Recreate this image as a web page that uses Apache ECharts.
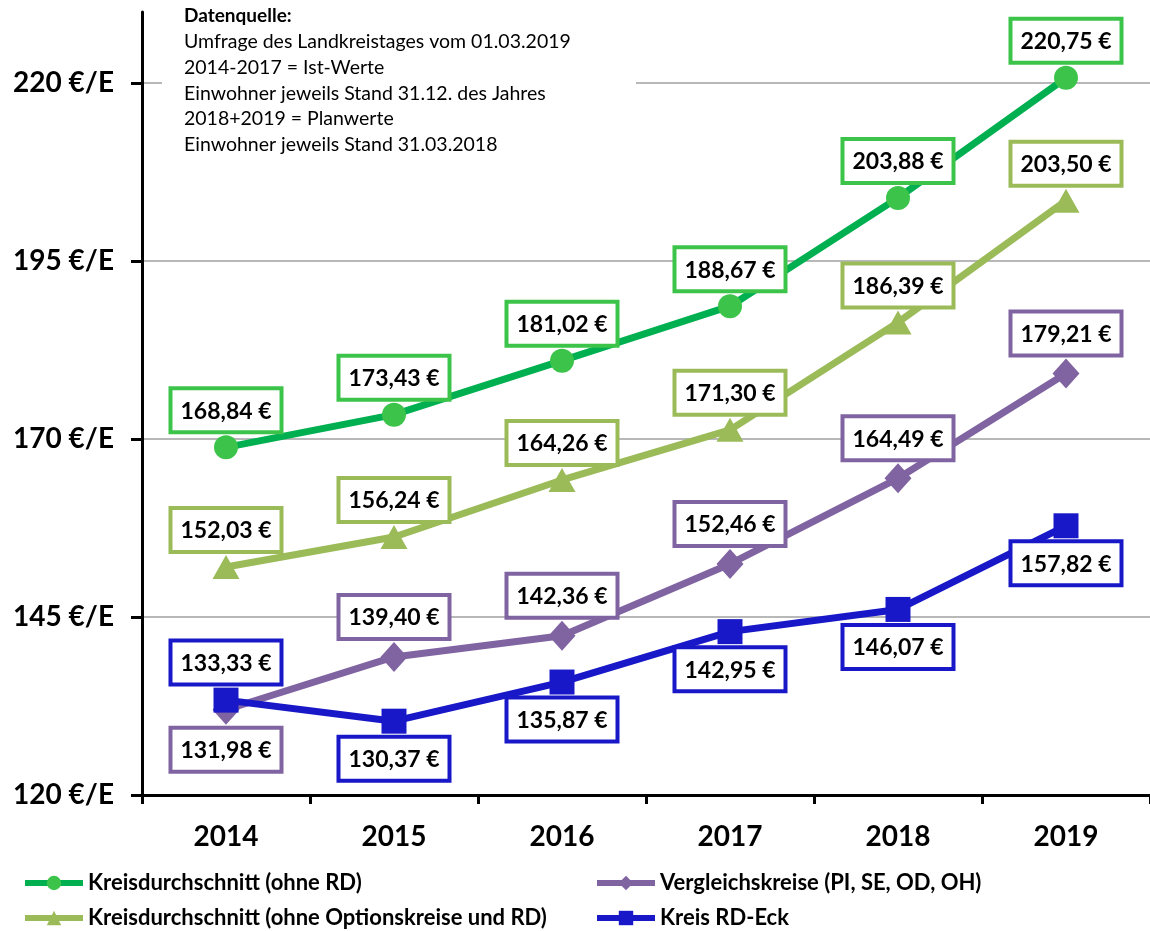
<!DOCTYPE html>
<html><head><meta charset="utf-8">
<script src="https://cdn.jsdelivr.net/npm/echarts@6/dist/echarts.min.js"></script>
<style>html,body{margin:0;padding:0;background:#fff}#c{width:1150px;height:931px}</style>
</head><body><div id="c"></div>
<script>
const categories = ['2014', '2015', '2016', '2017', '2018', '2019'];
const seriesNames = ['Kreisdurchschnitt (ohne RD)', 'Kreisdurchschnitt (ohne Optionskreise und RD)', 'Vergleichskreise (PI, SE, OD, OH)', 'Kreis RD-Eck'];
const greenValues = [168.84, 173.43, 181.02, 188.67, 203.88, 220.75];
const oliveValues = [152.03, 156.24, 164.26, 171.30, 186.39, 203.50];
const purpleValues = [131.98, 139.40, 142.36, 152.46, 164.49, 179.21];
const blueValues = [133.33, 130.37, 135.87, 142.95, 146.07, 157.82];
const noteLines = ['Umfrage des Landkreistages vom 01.03.2019', '2014-2017 = Ist-Werte', 'Einwohner jeweils Stand 31.12. des Jahres', '2018+2019 = Planwerte', 'Einwohner jeweils Stand 31.03.2018'];
const noteTitle = 'Datenquelle:';

const FONT = 'Lato';
const fmt = v => v.toFixed(2).replace('.', ',') + ' €';

function mkSeries(name, values, lineColor, markColor, symbol, symbolSize, positions) {
  return {
    name, type: 'line', data: values.map((v, i) => ({
      value: v,
      label: { position: positions[i] }
    })),
    xAxisIndex: 0, yAxisIndex: 0,
    symbol, symbolSize, clip: false,
    lineStyle: { color: lineColor, width: 7 },
    itemStyle: { color: markColor },
    emphasis: { disabled: true },
    label: {
      show: true, formatter: p => fmt(p.value), distance: 5,
      fontFamily: FONT, fontWeight: 'bold', fontSize: 23, color: '#000',
      backgroundColor: '#fff', borderColor: markColor, borderWidth: 4,
      padding: [9, 8, 7, 8], lineHeight: 24
    }
  };
}

const allTop = ['top','top','top','top','top','top'];
const purplePos = ['bottom','top','top','top','top','top'];
const bluePos = ['top','bottom','bottom','bottom','bottom','bottom'];

const chart = echarts.init(document.getElementById('c'), null, { renderer: 'canvas' });
const graphics = [
  { type: 'rect', left: 162, top: 4, shape: { width: 474, height: 152 }, style: { fill: '#fff' }, z: 50 },
  { type: 'text', left: 184, top: 6, z: 51, style: { text: noteTitle, fontSize: 19, fontFamily: FONT, fontWeight: 'bold', fill: '#000' } }
].concat(noteLines.map((t, i) => ({ type: 'text', left: 184, top: 6 + 25.8 * (i + 1), z: 51,
  style: { text: t, fontSize: 19.5, fontFamily: FONT, fontWeight: 'normal', fill: '#000' } })));

const legendPos = [[22, 872], [22, 907], [594, 872], [594, 907]];
const legends = seriesNames.map((n, i) => ({
  data: [n], left: legendPos[i][0], top: legendPos[i][1], itemWidth: 58, itemHeight: 18,
  formatter: name => '{b|' + name + '}',
  textStyle: { fontFamily: FONT, fontWeight: 'bold', fontSize: 22, color: '#000',
    rich: { b: { fontFamily: FONT, fontWeight: 'bold', fontSize: 22, color: '#000' } } },
  lineStyle: { width: 6 }, selectedMode: false, padding: 0
}));

chart.setOption({
  animation: false,
  backgroundColor: '#fff',
  grid: [
    { left: 142, right: -4, top: 12, bottom: 136 },
    { left: 142, right: -4, top: 83, bottom: 136 }
  ],
  xAxis: [
    { type: 'category', data: categories, gridIndex: 0, boundaryGap: true,
      axisLine: { lineStyle: { color: '#000', width: 3 } },
      axisTick: { show: true, length: 9, interval: 0, lineStyle: { color: '#000', width: 3 } },
      axisLabel: { margin: 28, fontFamily: FONT, fontWeight: 'bold', fontSize: 28, color: '#000' },
      z: 5 },
    { type: 'category', data: categories, gridIndex: 1, show: false }
  ],
  yAxis: [
    { type: 'value', gridIndex: 0, min: 120, max: 230,
      axisLine: { show: true, lineStyle: { color: '#000', width: 3 } },
      axisTick: { show: false }, axisLabel: { show: false }, splitLine: { show: false }, z: 5 },
    { type: 'value', gridIndex: 1, min: 120, max: 220, interval: 25,
      axisLine: { show: false },
      axisTick: { show: true, length: 11, lineStyle: { color: '#000', width: 3 } },
      axisLabel: { margin: 28, fontFamily: FONT, fontWeight: 'bold', fontSize: 28, color: '#000', formatter: v => v + ' €/E' },
      splitLine: { show: true, lineStyle: { color: '#a0a0a0', width: 1.5 } } }
  ],
  legend: legends,
  graphic: graphics,
  series: [
    mkSeries(seriesNames[0], greenValues, '#00b050', '#3cc44a', 'circle', 24, allTop),
    mkSeries(seriesNames[1], oliveValues, '#9bbb59', '#9bbb59', 'triangle', [27, 24], allTop),
    mkSeries(seriesNames[2], purpleValues, '#8064a2', '#8064a2', 'diamond', [27, 30], purplePos),
    mkSeries(seriesNames[3], blueValues, '#1818c8', '#1818c8', 'rect', 25, bluePos)
  ]
});
</script></body></html>
